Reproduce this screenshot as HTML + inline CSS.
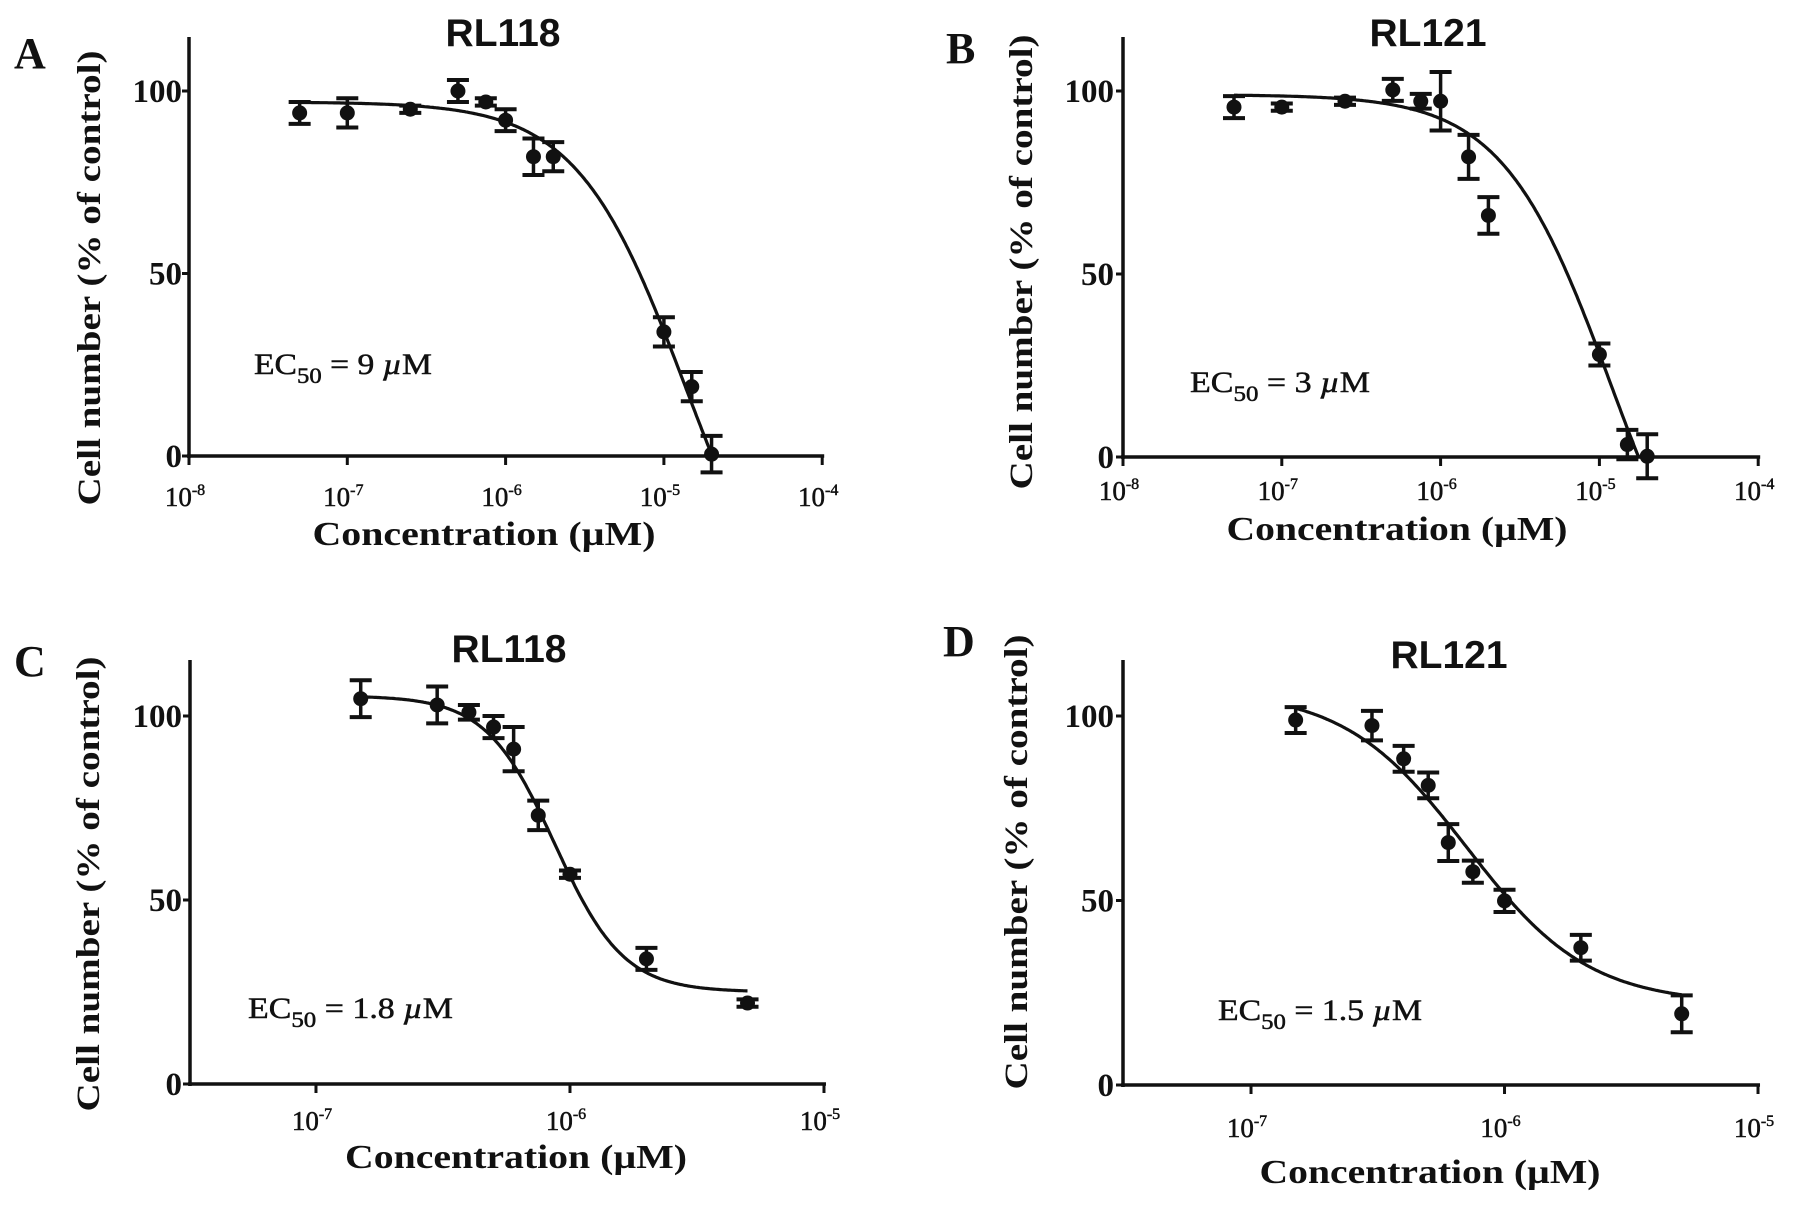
<!DOCTYPE html>
<html><head><meta charset="utf-8">
<style>
html,body{margin:0;padding:0;background:#fff;}
svg{display:block;}
text{fill:#111;}
.serif{font-family:"Liberation Serif",serif;}
.sans{font-family:"Liberation Sans",sans-serif;}
</style></head>
<body>
<svg id="fig" width="1795" height="1205" viewBox="0 0 1795 1205" xmlns="http://www.w3.org/2000/svg"></svg>
<script>
// ---- Panel A (RL118, 10^-8..10^-4)
const aConc = [5e-8,1e-7,2.5e-7,5e-7,7.5e-7,1e-6,1.5e-6,2e-6,1e-5,1.5e-5,2e-5];
const aVals = [94,94,95,100,97,92,82,82,34,19,0.5];
const aErr  = [3,4,1,3,1,3,5,4,4,4,5];
const aFit  = [97,-60,-4.86,1.26];
// ---- Panel B (RL121, 10^-8..10^-4)
const bConc = [5e-8,1e-7,2.5e-7,5e-7,7.5e-7,1e-6,1.5e-6,2e-6,1e-5,1.5e-5,2e-5];
const bVals = [95.6,95.6,97.2,100.3,97.2,97.2,82,66,28,3.4,0.2];
const bErr  = [3,1,1,3,2,8,6,5,3,4,6];
const bFit  = [99,-60,-4.925,1.27];
// ---- Panel C (RL118, 10^-7.5..10^-5)
const cConc = [1.5e-7,3e-7,4e-7,5e-7,6e-7,7.5e-7,1e-6,2e-6,5e-6];
const cVals = [104.7,103,101,97,91,73,57,34,22];
const cErr  = [5,5,2,3,6,4,1,3,1];
const cFit  = [105.5,25,-6.06,3.2];
// ---- Panel D (RL121, 10^-7.5..10^-5)
const dConc = [1.5e-7,3e-7,4e-7,5e-7,6e-7,7.5e-7,1e-6,2e-6,5e-6];
const dVals = [98.9,97.4,88.4,81.2,65.7,57.8,49.9,37.2,19.3];
const dErr  = [3.5,4,3.5,3.5,5,3,3,3.5,5];
const dFit  = [107,22,-6.15,1.8];
// ---- Axis tick labels
const yTickVals = [0,50,100];
const yTickLabels = ["0","50","100"];
const abXTickExp = [-8,-7,-6,-5,-4];
const cdXTickExp = [-7,-6,-5];
const titles = ["RL118","RL121","RL118","RL121"];
const letters = ["A","B","C","D"];
const ecLabels = ["9","3","1.8","1.5"];

const NS="http://www.w3.org/2000/svg";
const svg=document.getElementById('fig');
function mk(tag,attrs,parent){const e=document.createElementNS(NS,tag);for(const k in attrs)e.setAttribute(k,attrs[k]);(parent||svg).appendChild(e);return e;}

const panels=[
 {conc:aConc,vals:aVals,err:aErr,fit:aFit,ax:189,xmin:-8,xmax:-4,dec:158.3,y0:456,y100:91,top:37,ticks:abXTickExp,
  letter:[14,68],title:[503,46],ylab:[88,278],tickBase:506,xlab:[484,545,343],ec:[254,374,178],yTickX:182},
 {conc:bConc,vals:bVals,err:bErr,fit:bFit,ax:1123,xmin:-8,xmax:-4,dec:158.8,y0:457,y100:91,top:37,ticks:abXTickExp,
  letter:[946,63],title:[1428,46],ylab:[1020,262],tickBase:500,xlab:[1397,540,341],ec:[1190,392,180],yTickX:1114},
 {conc:cConc,vals:cVals,err:cErr,fit:cFit,ax:190,xmin:-7.496,xmax:-5,dec:254,y0:1084,y100:716,top:660,ticks:cdXTickExp,
  letter:[14,676],title:[509,662],ylab:[87,884],tickBase:1130,xlab:[516,1168,342],ec:[248,1018,205],yTickX:182},
 {conc:dConc,vals:dVals,err:dErr,fit:dFit,ax:1123,xmin:-7.505,xmax:-5,dec:253.5,y0:1085,y100:716,top:660,ticks:cdXTickExp,
  letter:[943,656],title:[1449,668],ylab:[1015,862],tickBase:1137,xlab:[1430,1183,341],ec:[1218,1020,204],yTickX:1114}
];

panels.forEach((p,i)=>{
  const g=mk('g',{});
  
  
  const X=l=>p.ax+(l-p.xmin)*p.dec;
  const Y=v=>p.y0+(p.y100-p.y0)*v/100;
  const xEnd=X(p.xmax);
  const ya=mk('line',{x1:p.ax,y1:p.top,x2:p.ax,y2:p.y0+2,stroke:'#111','stroke-width':3.5},g);
  
  
  const xa=mk('line',{x1:p.ax-2,y1:p.y0,x2:xEnd+2,y2:p.y0,stroke:'#111','stroke-width':3.5},g);
  
  
  yTickVals.forEach((v,k)=>{
    mk('line',{x1:p.ax-7,y1:Y(v),x2:p.ax,y2:Y(v),stroke:'#111','stroke-width':3},g);
    const t=mk('text',{x:p.yTickX,y:Y(v)+11,'text-anchor':'end','font-size':33,'font-weight':'bold',class:'serif'},g);
    t.textContent=yTickLabels[k];
    
    
  });
  p.ticks.forEach(e=>{
    mk('line',{x1:X(e),y1:p.y0,x2:X(e),y2:p.y0+9,stroke:'#111','stroke-width':3},g);
    const t=mk('text',{x:X(e)-4,y:p.tickBase,'text-anchor':'middle','font-size':27,class:'serif',stroke:'#111','stroke-width':0.5},g);
    
    
    const s1=mk('tspan',{},t); s1.textContent='10';
    const s2=mk('tspan',{dy:-11,'font-size':16},t); s2.textContent=String(e);
  });
  const L=mk('text',{x:p.letter[0],y:p.letter[1],'font-size':44,'font-weight':'bold',class:'serif'},g);
  L.textContent=letters[i];
  
  
  const T=mk('text',{x:p.title[0],y:p.title[1],'text-anchor':'middle','font-size':39,'font-weight':'bold',class:'sans'},g);
  T.textContent=titles[i];
  
  
  const yl=mk('text',{x:0,y:0,'text-anchor':'middle','font-size':33,'font-weight':'bold',class:'serif',
    transform:`translate(${p.ylab[0]+12},${p.ylab[1]}) rotate(-90)`,textLength:455,lengthAdjust:'spacingAndGlyphs'},g);
  yl.textContent='Cell number (% of control)';
  
  
  const xl=mk('text',{x:p.xlab[0],y:p.xlab[1],'text-anchor':'middle','font-size':34,'font-weight':'bold',class:'serif',
    textLength:p.xlab[2],lengthAdjust:'spacingAndGlyphs'},g);
  xl.textContent='Concentration (\u00B5M)';
  
  
  const ec=mk('text',{x:p.ec[0],y:p.ec[1],'font-size':30,class:'serif',stroke:'#111','stroke-width':0.5,textLength:p.ec[2],lengthAdjust:'spacingAndGlyphs'},g);
  
  
  const e1=mk('tspan',{},ec); e1.textContent='EC';
  const e2=mk('tspan',{dy:9,'font-size':22},ec); e2.textContent='50';
  const e3=mk('tspan',{dy:-9},ec); e3.textContent=' = '+ecLabels[i]+' ';
  const e4=mk('tspan',{'font-style':'italic'},ec); e4.textContent='\u00B5';
  const e5=mk('tspan',{},ec); e5.textContent='M';
  const [top,bot,c,h]=p.fit;
  const f=l=>bot+(top-bot)/(1+Math.pow(10,h*(l-c)));
  const lx=p.conc.map(v=>Math.log10(v));
  const l0=lx[0], l1=lx[lx.length-1];
  let d='';
  for(let k=0;k<=300;k++){
    const l=l0+(l1-l0)*k/300;
    let v=f(l);
    if(v<0){v=0; d+=`L${X(l).toFixed(1)},${Y(v).toFixed(1)}`; break;}
    d+=(k?'L':'M')+X(l).toFixed(1)+','+Y(v).toFixed(1);
  }
  const cv=mk('path',{d:d,fill:'none',stroke:'#111','stroke-width':3.2},g);
  
  
  p.vals.forEach((v,k)=>{
    const x=X(lx[k]), y=Y(v), eh=p.err[k]*(p.y0-p.y100)/100;
    const pg=mk('g',{},g);
    
    
    mk('line',{x1:x,y1:y-eh,x2:x,y2:y+eh,stroke:'#111','stroke-width':3.5},pg);
    mk('line',{x1:x-11,y1:y-eh,x2:x+11,y2:y-eh,stroke:'#111','stroke-width':4},pg);
    mk('line',{x1:x-11,y1:y+eh,x2:x+11,y2:y+eh,stroke:'#111','stroke-width':4},pg);
    mk('circle',{cx:x,cy:y,r:7.5,fill:'#111'},pg);
  });
});
</script>
</body></html>
